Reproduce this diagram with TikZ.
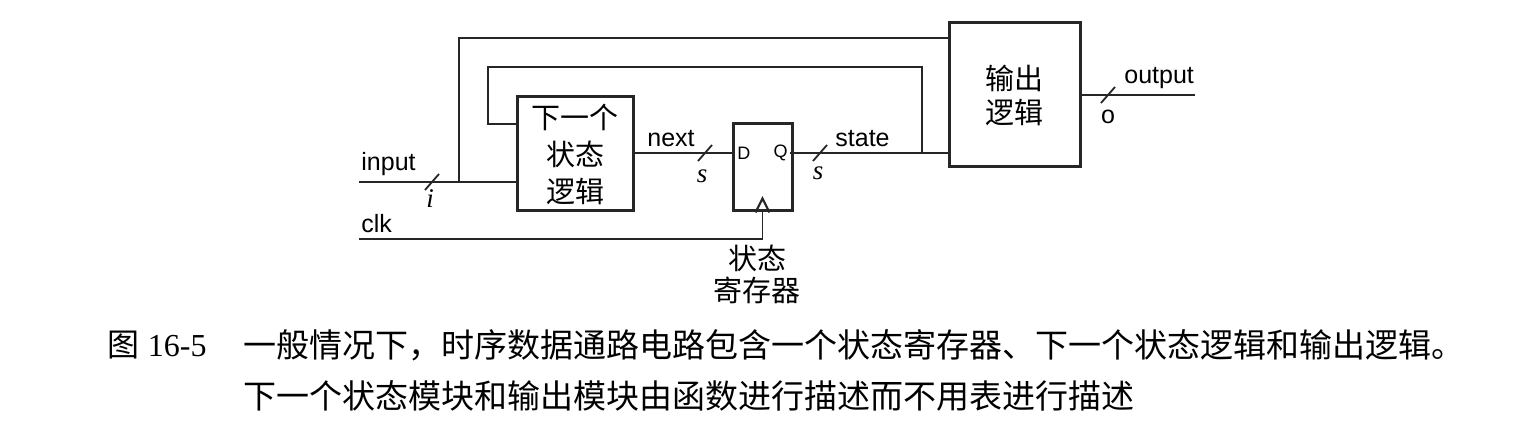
\documentclass[tikz,border=0pt]{standalone}
\usepackage{fontspec}
\setmainfont{Liberation Serif}
\newfontfamily\cjk{Noto Sans CJK SC}
\newfontfamily\lab{Liberation Sans}
\usepackage{tikz}
\usetikzlibrary{calc,positioning}

\begin{document}
\begin{tikzpicture}[x=0.5pt,y=-0.5pt,>=stealth,
	wire/.style={draw=black!85, line width=0.9pt},
	blk/.style={draw=black!85, line width=1.5pt, inner sep=0pt, align=center, font=\cjk\fontsize{14.5}{18.5}\selectfont},
	sig/.style={font=\lab\fontsize{12.5}{14}\selectfont, inner sep=1pt},
	wid/.style={font=\fontsize{13.5}{14}\selectfont\itshape, inner sep=1pt},
	port/.style={font=\lab\fontsize{9}{10}\selectfont, inner sep=1pt},
	busmark/.pic={\draw[wire] (-7,8) -- (7,-8);}]
	\useasboundingbox (0,0) rectangle (1539,422);

	% blocks
	\node (nsl) at (575,154) [blk, minimum width=58pt, minimum height=57pt] {下一个\\状态\\逻辑};
	\node (reg) at (762.5,167.5) [blk, minimum width=29.5pt, minimum height=43.5pt] {};
	\node (outl) at (1014.5,95) [blk, minimum width=65.5pt, minimum height=72pt, font=\cjk\fontsize{14.5}{17}\selectfont] {输出\\逻辑};
	\node (pd) at (735,153) [port, anchor=west] {D};
	\node (pq) at (790,153) [port, anchor=east] {Q};
	\node (regname) at (757,274) [align=center, font=\cjk\fontsize{14.5}{16}\selectfont, inner sep=0pt] {状态\\寄存器};

	% wire ends and bends
	\coordinate (inL) at (359,182);
	\coordinate (clkL) at (359,239);
	\coordinate (j1) at (459,182);
	\coordinate (top1) at (459,38);
	\coordinate (j2) at (922,153);
	\coordinate (fb1) at (922,67);
	\coordinate (fb2) at (488,67);
	\coordinate (fb3) at (488,124);
	\coordinate (outR) at (1195,95);
	\coordinate (clkin) at ($(reg.south)+(0,-14)$);

	% wires
	\draw [wire] (inL) -- (inL -| nsl.west);
	\draw [wire] (j1) -- (top1) -- (top1 -| outl.west);
	\draw [wire] (j2) -- (fb1) -- (fb2) -- (fb3) -- (fb3 -| nsl.west);
	\draw [wire] (pd.west -| nsl.east) -- (pd.west);
	\draw [wire] (pq.east) -- (pq.east -| outl.west);
	\draw [wire] (outl.east) -- (outR);
	\draw [wire] (clkL) -| (reg.south);
	\draw [black!85, line width=1.1pt] ($(reg.south)+(-7,0)$) -- (clkin) -- ($(reg.south)+(7,0)$);

	% bus widths
	\pic at (432,182) {busmark};
	\pic at (705,153) {busmark};
	\pic at (820,153) {busmark};
	\pic at (1108,95) {busmark};

	% labels
	\node (linput) at (359,182) [sig, anchor=south west, yshift=2pt] {input};
	\node (lclk) at (359,239) [sig, anchor=south west, yshift=2pt] {clk};
	\node (lnext) at (645,153) [sig, anchor=south west, yshift=2pt] {next};
	\node (lstate) at (833,153) [sig, anchor=south west, yshift=2pt] {state};
	\node (loutput) at (1122,95) [sig, anchor=south west, yshift=2pt] {output};
	\node (wi) at (430,199) [wid] {i};
	\node (ws1) at (702,176) [wid] {s};
	\node (ws2) at (818,173) [wid] {s};
	\node (wo) at (1108,117) [sig] {o};

	% caption
	\node (figno) at (207,345) [anchor=east, inner sep=0pt, font=\fontsize{16}{17}\selectfont] {{\cjk 图} 16-5};
	\node (cap1) at (243,345) [anchor=west, inner sep=0pt, font=\cjk\fontsize{16.5}{17}\selectfont] {一般情况下，时序数据通路电路包含一个状态寄存器、下一个状态逻辑和输出逻辑。};
	\node (cap2) at (243,396) [anchor=west, inner sep=0pt, font=\cjk\fontsize{16.5}{17}\selectfont] {下一个状态模块和输出模块由函数进行描述而不用表进行描述};
\end{tikzpicture}
\end{document}
